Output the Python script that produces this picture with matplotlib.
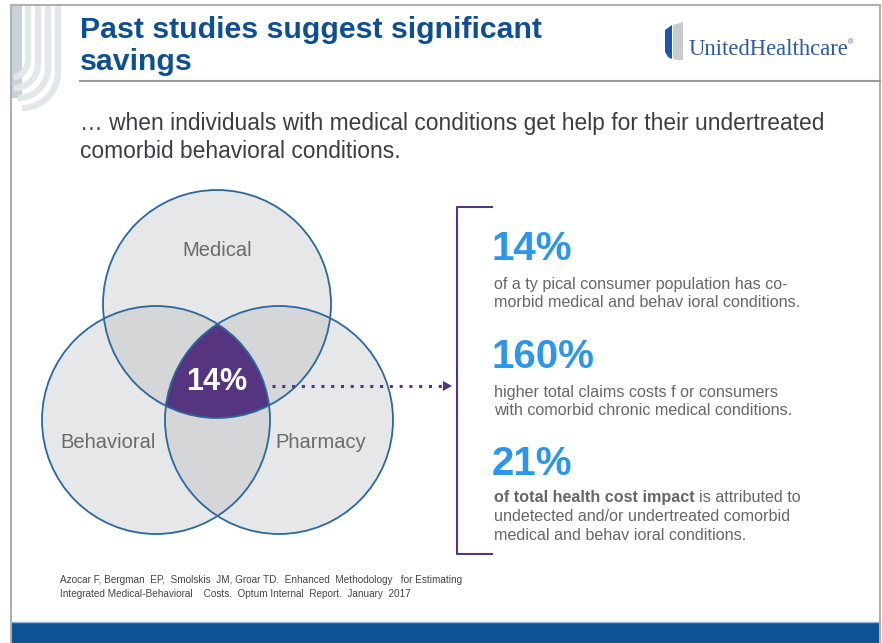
import numpy as np
import matplotlib.pyplot as plt
from matplotlib.patches import Circle, Polygon, Rectangle

plt.rcParams["font.family"] = ["Liberation Sans", "DejaVu Sans"]

# ---- content ----
title_lines = ["Past studies suggest significant", "savings"]
subtitle_lines = ["\u2026 when individuals with medical conditions get help for their undertreated",
                  "comorbid behavioral conditions."]
set_labels = ["Medical", "Behavioral", "Pharmacy"]
overlap_value = "14%"
stat_values = ["14%", "160%", "21%"]
stat_lines = [
    ["of a ty pical consumer population has co-",
     "morbid medical and behav ioral conditions."],
    ["higher total claims costs f or consumers",
     "with comorbid chronic medical conditions."],
    ["is attributed to",
     "undetected and/or undertreated comorbid",
     "medical and behav ioral conditions."],
]
stat_bold_lead = [None, None, "of total health cost impact "]
footnote = ["Azocar F, Bergman  EP,  Smolskis  JM, Groar TD.  Enhanced  Methodology   for Estimating",
            "Integrated Medical-Behavioral    Costs.  Optum Internal  Report.  January  2017"]
logo_text = "UnitedHealthcare"

# ---- colours ----
dark_blue = "#0e4f93"
stat_blue = "#2c96ee"
purple = "#55357f"
grey_txt = "#666666"
circle_edge = "#2d679c"

fig = plt.figure(figsize=(8.82, 6.43), dpi=100)
ax = fig.add_axes([0, 0, 1, 1])
ax.set_xlim(0, 882)
ax.set_ylim(643, 0)
ax.axis("off")

# slide frame
ax.plot([11, 880], [5, 5], color="#b0b0b0", lw=1.5)
ax.plot([11, 11], [5, 643], color="#b0b0b0", lw=1.5)
ax.plot([880, 880], [5, 643], color="#b0b0b0", lw=1.5)

# left decoration stripes (vertical, sweeping down-left at the bottom)
ax.add_patch(Rectangle((12, 6), 10, 92, color="#c9d1da", lw=0))
for i, x0 in enumerate([28, 38, 48, 58]):
    ybend = 60 + i * 4
    r = 18 + i * 6
    th = np.linspace(0, np.pi / 2, 40)
    xs = np.concatenate([[x0], x0 - r + r * np.cos(th)])
    ys = np.concatenate([[6], ybend + r * np.sin(th)])
    keep = xs >= 13
    ax.plot(xs[keep], ys[keep], color="#e2e7eb", lw=4.5, solid_capstyle="butt")

# title
ax.text(80, 38, title_lines[0], fontsize=21.8, fontweight="bold", color=dark_blue, va="baseline")
ax.text(80, 70, title_lines[1], fontsize=21.8, fontweight="bold", color=dark_blue, va="baseline")
ax.plot([80, 880], [80.5, 80.5], color="#9a9a9a", lw=1.5)

# logo
ax.add_patch(Polygon([(665, 30), (672, 25), (672, 59), (668, 57), (665, 52)], color="#2456a8", lw=0))
ax.add_patch(Polygon([(673, 25), (683, 22), (683, 60), (676, 60), (673, 58)], color="#c7ccd3", lw=0))
ax.text(689, 55, logo_text, fontsize=16.3, family=["Liberation Serif", "DejaVu Serif"],
        color="#2b5aa6", va="baseline")
ax.text(848, 44, "\u00ae", fontsize=5, color="#2b5aa6", va="baseline")

# subtitle
ax.text(80, 130, subtitle_lines[0], fontsize=16.4, color="#3c3c46", va="baseline")
ax.text(80, 158, subtitle_lines[1], fontsize=16.4, color="#3c3c46", va="baseline")

# venn diagram
centers = [(217, 304), (156, 420), (279, 420)]
radius = 114


def inside(pts, c):
    return np.hypot(pts[:, 0] - c[0], pts[:, 1] - c[1]) <= radius + 1e-6


def region(idx):
    pts = []
    th = np.linspace(0, 2 * np.pi, 2000)
    for i in idx:
        c = centers[i]
        p = np.column_stack([c[0] + radius * np.cos(th), c[1] + radius * np.sin(th)])
        keep = np.ones(len(p), bool)
        for j in idx:
            if j != i:
                keep &= inside(p, centers[j])
        pts.append(p[keep])
    pts = np.vstack(pts)
    m = pts.mean(axis=0)
    order = np.argsort(np.arctan2(pts[:, 1] - m[1], pts[:, 0] - m[0]))
    return pts[order]


for c in centers:
    ax.add_patch(Circle(c, radius, facecolor="#e6e7e8", edgecolor="none"))
for pair in [(0, 1), (0, 2), (1, 2)]:
    ax.add_patch(Polygon(region(pair), facecolor="#d4d6d8", edgecolor="none"))
ax.add_patch(Polygon(region((0, 1, 2)), facecolor=purple, edgecolor="none"))
for c in centers:
    ax.add_patch(Circle(c, radius, facecolor="none", edgecolor=circle_edge, lw=1.3))

ax.text(217, 251, set_labels[0], fontsize=14.5, color="#6a6a6a", ha="center", va="center")
ax.text(108, 443, set_labels[1], fontsize=14.5, color="#6a6a6a", ha="center", va="center")
ax.text(321, 443, set_labels[2], fontsize=14.5, color="#6a6a6a", ha="center", va="center")
ax.text(217, 382, overlap_value, fontsize=22, fontweight="bold", color="white",
        ha="center", va="center")

# dotted arrow
ax.plot([272, 445], [386, 386], color=purple, lw=2.2, ls=(0, (1, 2.2)))
ax.add_patch(Polygon([(443, 381), (452, 386), (443, 391)], color=purple, lw=0))

# bracket
ax.plot([492, 457, 457, 492], [207, 207, 554, 554], color=purple, lw=1.5)

# stats
num_y = [260, 368, 475]
line_y = [[289, 307], [397, 415], [502, 521, 540]]
fig.canvas.draw()
renderer = fig.canvas.get_renderer()
for k in range(3):
    ax.text(492, num_y[k], stat_values[k], fontsize=29, fontweight="bold", color=stat_blue,
            va="baseline")
    for n, (txt, y) in enumerate(zip(stat_lines[k], line_y[k])):
        x = 494
        if n == 0 and stat_bold_lead[k]:
            b = ax.text(x, y, stat_bold_lead[k], fontsize=11.6, fontweight="bold",
                        color=grey_txt, va="baseline")
            x += b.get_window_extent(renderer).width
        ax.text(x, y, txt, fontsize=11.6, color=grey_txt, va="baseline")

# footnote
ax.text(60, 583, footnote[0], fontsize=7.2, color="#444444", va="baseline")
ax.text(60, 597, footnote[1], fontsize=7.2, color="#444444", va="baseline")

# bottom band
ax.add_patch(Rectangle((12, 622), 868, 21, color="#0b5394", lw=0))
ax.plot([12, 880], [621.5, 621.5], color="#8fb2d4", lw=1)

fig.savefig("out.png", dpi=100)
